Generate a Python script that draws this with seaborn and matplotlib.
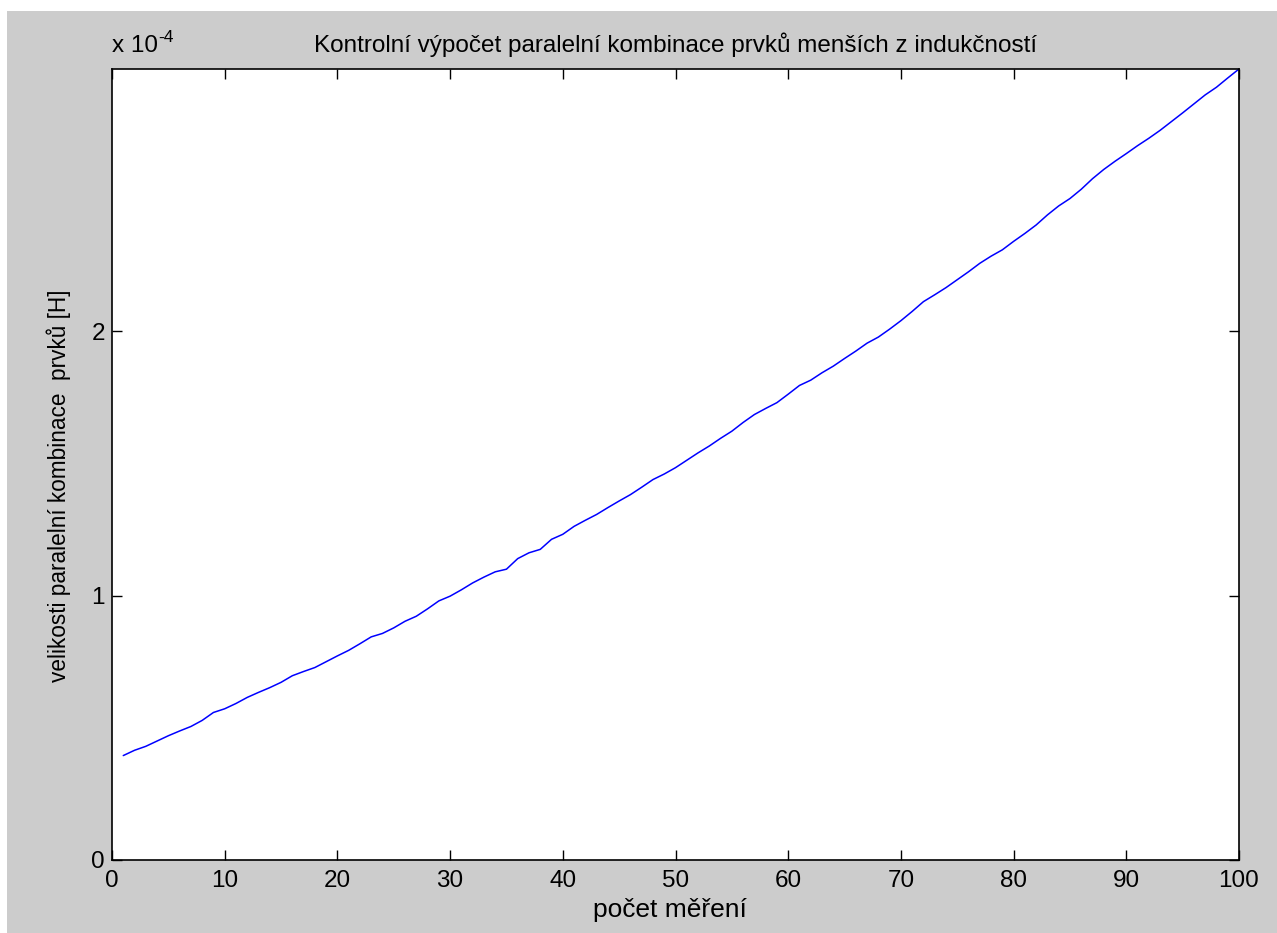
import numpy as np
import pandas as pd
import matplotlib
matplotlib.use("Agg")
import matplotlib.pyplot as plt
import seaborn as sns
from matplotlib.patches import Rectangle

# ---- data (inductance in units of 1e-4 H) ----
measurement = list(range(1, 101))
inductance_e4 = [
    0.395, 0.415, 0.430, 0.450, 0.470, 0.488, 0.505, 0.528, 0.558, 0.572,
    0.592, 0.615, 0.634, 0.652, 0.672, 0.697, 0.713, 0.728, 0.750, 0.772,
    0.793, 0.818, 0.844, 0.857, 0.878, 0.903, 0.922, 0.950, 0.980, 0.998,
    1.022, 1.048, 1.070, 1.090, 1.100, 1.140, 1.162, 1.175, 1.213, 1.232,
    1.262, 1.285, 1.307, 1.333, 1.358, 1.382, 1.410, 1.439, 1.460, 1.484,
    1.512, 1.540, 1.566, 1.595, 1.622, 1.655, 1.685, 1.708, 1.730, 1.762,
    1.795, 1.815, 1.843, 1.868, 1.897, 1.925, 1.955, 1.978, 2.008, 2.040,
    2.075, 2.112, 2.138, 2.165, 2.195, 2.225, 2.257, 2.284, 2.308, 2.340,
    2.370, 2.402, 2.440, 2.474, 2.502, 2.537, 2.577, 2.612, 2.643, 2.672,
    2.702, 2.730, 2.760, 2.793, 2.826, 2.860, 2.894, 2.923, 2.958, 2.992,
]
x_ticks = [0, 10, 20, 30, 40, 50, 60, 70, 80, 90, 100]
y_ticks = [0, 1, 2]
y_tick_labels = ["0", "1", "2"]

title = "Kontrolní výpočet paralelní kombinace prvků menších z indukčností"
xlabel = "počet měření"
ylabel = "velikosti paralelní kombinace  prvků [H]"

df = pd.DataFrame({"n": measurement, "L": inductance_e4})

sns.set_style("ticks")
plt.rcParams["font.family"] = ["Liberation Sans", "DejaVu Sans"]
plt.rcParams["text.color"] = "black"
plt.rcParams["axes.labelcolor"] = "black"
FS = 17.5

W, H = 1277, 933
fig = plt.figure(figsize=(W / 100, H / 100), dpi=100, facecolor="white")
# grey MATLAB-like window background (white margin at top/left as in source)
fig.patches.append(Rectangle((7 / W, 0), 1 - 7 / W, 1 - 11 / H,
                             transform=fig.transFigure, facecolor="#CCCCCC",
                             edgecolor="none", zorder=-10))

ax = fig.add_axes([112 / W, 1 - 860 / H, (1239 - 112) / W, (860 - 69) / H])
ax.set_facecolor("white")

sns.lineplot(data=df, x="n", y="L", ax=ax, color="#0000FF", linewidth=1.1)

ax.set_xlim(0, 100)
ax.set_ylim(0, max(inductance_e4))
ax.set_xticks(x_ticks)
ax.set_xticklabels([str(t) for t in x_ticks])
ax.set_yticks(y_ticks)
ax.set_yticklabels(y_tick_labels)

for s in ax.spines.values():
    s.set_visible(True)
    s.set_color("black")
    s.set_linewidth(1.2)

ax.tick_params(direction="in", length=7, width=1.0, top=True, right=True,
               labelsize=FS, colors="black")
ax.tick_params(axis="x", pad=7)
ax.tick_params(axis="y", pad=5)

ax.set_title(title, fontsize=FS, pad=12, color="black")
ax.set_xlabel(xlabel, fontsize=19, color="black")
ax.set_ylabel(ylabel, fontsize=16.3, color="black")
ax.xaxis.set_label_coords(0.495, -0.048)
ax.yaxis.set_label_coords(-0.036, 0.473)

t = ax.text(0, 1.015, "x 10", transform=ax.transAxes, ha="left",
            va="bottom", fontsize=FS, color="black")
ax.annotate("-4", xy=(1, 0.55), xycoords=t, ha="left", va="bottom",
            fontsize=FS * 0.72, annotation_clip=False, color="black")

fig.savefig("out.png", dpi=100, facecolor=fig.get_facecolor())
